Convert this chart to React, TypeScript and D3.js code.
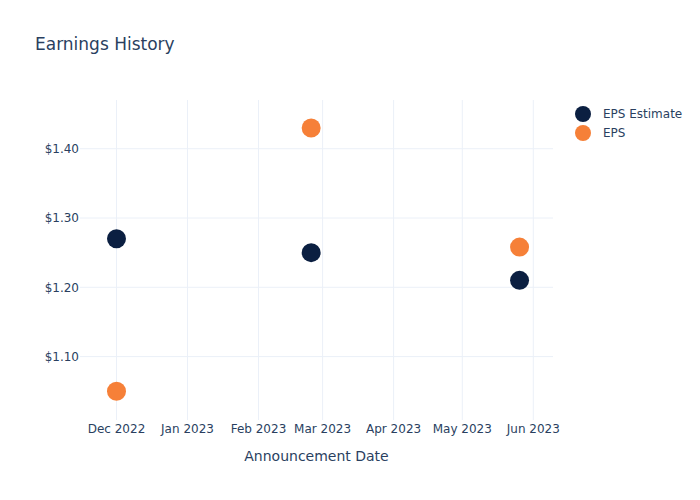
import React from "react";
import * as d3 from "d3";

const dates = ["2022-12-01", "2023-02-24", "2023-05-26"];
const epsEstimate = [1.27, 1.25, 1.21];
const epsActual = [1.05, 1.43, 1.258];
const yTicks = [1.1, 1.2, 1.3, 1.4];
const xTickDates = ["2022-12-01", "2023-01-01", "2023-02-01", "2023-03-01", "2023-04-01", "2023-05-01", "2023-06-01"];
const seriesNames = ["EPS Estimate", "EPS"];
const seriesColors = ["#0b1f41", "#f68038"];

const W = 700, H = 500;
const M = { l: 80, r: 147, t: 100, b: 80 };
const FONT = "'DejaVu Sans', Verdana, sans-serif";
const TEXT = "#2a3f5f";
const GRID = "#ebf0f8";

const parse = (s: string) => new Date(s + "T00:00:00Z");

export default function App() {
  // Dec 1 2022 -> 116.5px, Jun 1 2023 -> 533.3px
  const pxPerDay = (533.3 - 116.5) / 182;
  const dayMs = 86400000;
  const d0 = parse("2022-12-01").getTime();
  const x = d3
    .scaleUtc()
    .domain([new Date(d0 - ((116.5 - M.l) / pxPerDay) * dayMs), new Date(d0 + ((W - M.r - 116.5) / pxPerDay) * dayMs)])
    .range([M.l, W - M.r]);
  const y = d3.scaleLinear().domain([1.0085, 1.4703]).range([H - M.b, M.t]);
  const fmtX = d3.utcFormat("%b %Y");
  const series = [epsEstimate, epsActual];

  return (
    <svg width={W} height={H} style={{ position: "absolute", left: 0, top: 0, background: "#fff" }} fontFamily={FONT}>
      <rect x={0} y={0} width={W} height={H} fill="#fff" />
      {xTickDates.map((d) => (
        <line key={d} x1={x(parse(d))} x2={x(parse(d))} y1={M.t} y2={H - M.b} stroke={GRID} strokeWidth={1} />
      ))}
      {yTicks.map((v) => (
        <line key={v} x1={M.l} x2={W - M.r} y1={y(v)} y2={y(v)} stroke={GRID} strokeWidth={1} />
      ))}
      {yTicks.map((v) => (
        <text key={v} x={M.l - 1} y={y(v)} dy="0.35em" textAnchor="end" fontSize={12} fill={TEXT}>
          {"$" + v.toFixed(2)}
        </text>
      ))}
      {xTickDates.map((d) => (
        <text key={d} x={x(parse(d))} y={433} textAnchor="middle" fontSize={12} fill={TEXT}>
          {fmtX(parse(d))}
        </text>
      ))}
      <text x={(M.l + W - M.r) / 2} y={461} textAnchor="middle" fontSize={14} fill={TEXT}>
        Announcement Date
      </text>
      <text x={35} y={50} fontSize={17} fill={TEXT}>
        Earnings History
      </text>
      {series.map((vals, si) =>
        vals.map((v, i) => (
          <circle key={si + "-" + i} cx={x(parse(dates[i]))} cy={y(v)} r={9.5} fill={seriesColors[si]} />
        ))
      )}
      {seriesNames.map((n, i) => (
        <g key={n}>
          <circle cx={583} cy={114 + i * 19} r={8} fill={seriesColors[i]} />
          <text x={603} y={114 + i * 19} dy="0.35em" fontSize={12} fill={TEXT}>
            {n}
          </text>
        </g>
      ))}
    </svg>
  );
}
